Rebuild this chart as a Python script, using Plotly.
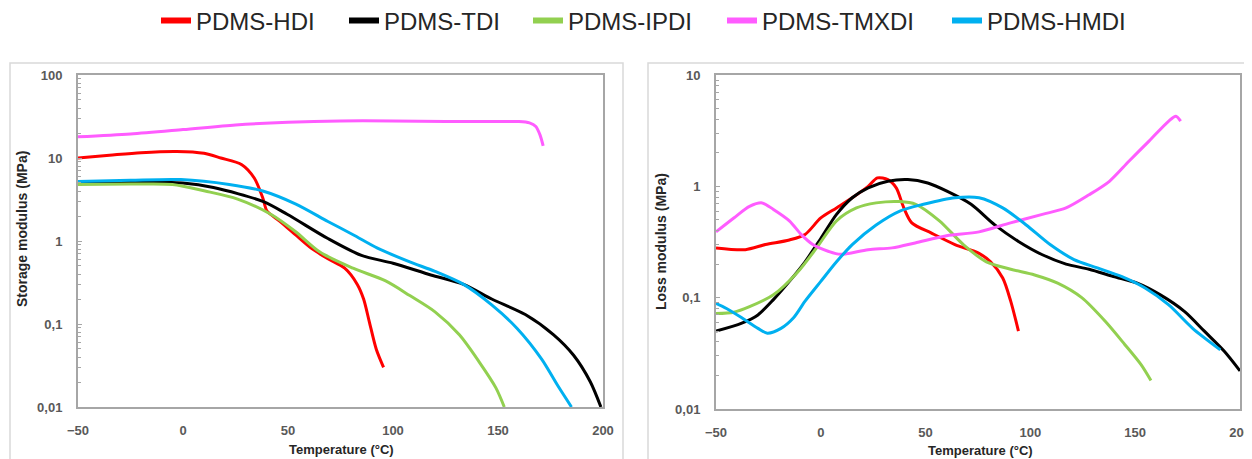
import plotly.graph_objects as go

# the page body has an 8px margin, so the figure is 8px smaller and all pixel
# positions below are given in window pixels and shifted by that offset
OFF = 8
W, H = 1252 - OFF, 459 - OFF

names = ["PDMS-HDI", "PDMS-TDI", "PDMS-IPDI", "PDMS-TMXDI", "PDMS-HMDI"]
colors = ["#FF0000", "#000000", "#92D050", "#FF5CFF", "#00B0F0"]

# ---- Storage modulus (MPa) vs temperature (°C) ----
sT_hdi = [-50, -35, -20, -3, 10, 18, 28, 34, 38, 40, 46, 53.5, 61, 69, 77, 83, 86, 88.7, 92, 95.5]
sE_hdi = [10, 10.8, 11.6, 12, 11.4, 10, 8.3, 5.7, 3.3, 2.3, 1.74, 1.19, 0.82, 0.61, 0.47, 0.3, 0.2, 0.107, 0.05, 0.03]

sT_tdi = [-50, -25, 0, 14.5, 38, 49.6, 69, 85, 100, 118, 133.6, 147, 163, 176.5, 186, 194, 199]
sE_tdi = [5.2, 5.2, 5.0, 4.4, 3.0, 2.1, 1.07, 0.67, 0.54, 0.39, 0.3, 0.2, 0.13, 0.074, 0.042, 0.02, 0.01]

sT_ipdi = [-50, -25, -5, 10.5, 26, 41.8, 53.5, 65, 81, 96.5, 108, 120, 131.6, 141, 149, 153]
sE_ipdi = [4.8, 4.85, 4.8, 4.0, 3.2, 2.1, 1.3, 0.74, 0.47, 0.33, 0.22, 0.14, 0.074, 0.035, 0.017, 0.01]

sT_tmxdi = [-50, -25, 0, 25, 50, 75, 100, 125, 150, 160, 165, 168, 170, 171.5]
sE_tmxdi = [18, 19.5, 22, 25, 27, 28, 28, 27.5, 27.5, 27.5, 26.5, 24, 19, 14]

sT_hmdi = [-50, -25, -1, 22, 38, 53.5, 69, 81, 92.6, 108, 120, 133.6, 147, 159, 170.7, 178.5, 185]
sE_hmdi = [5.2, 5.4, 5.5, 4.8, 4.0, 2.8, 1.72, 1.19, 0.82, 0.56, 0.43, 0.3, 0.17, 0.089, 0.038, 0.018, 0.01]

# ---- Loss modulus (MPa) vs temperature (°C) ----
lT_hdi = [-50, -36, -26.4, -15, -7.5, 0, 7.5, 15, 22.6, 27, 32, 36, 39.6, 43.4, 52.8, 64, 75.5, 81, 86.8, 90.6, 94.3]
lE_hdi = [0.28, 0.27, 0.30, 0.33, 0.37, 0.52, 0.64, 0.79, 1.0, 1.19, 1.15, 0.97, 0.64, 0.47, 0.38, 0.30, 0.25, 0.21, 0.15, 0.093, 0.05]

lT_tdi = [-50, -37.7, -30, -22.6, -15, -7.5, 0, 7.5, 15, 22.6, 32, 41.5, 51, 60.4, 71.7, 83, 94.3, 105.7, 117, 128, 139.6, 151, 162, 173.6, 183, 192.5, 200]
lE_tdi = [0.05, 0.059, 0.07, 0.096, 0.14, 0.21, 0.34, 0.56, 0.79, 0.97, 1.11, 1.15, 1.07, 0.9, 0.69, 0.45, 0.32, 0.243, 0.20, 0.18, 0.155, 0.135, 0.106, 0.075, 0.05, 0.033, 0.022]

lT_ipdi = [-50, -41.5, -34, -22.6, -11, -2, 7.5, 17, 26.4, 37.7, 45.3, 56.6, 68, 79, 90.6, 102, 113, 124.5, 135.8, 145, 152.8, 157.5]
lE_ipdi = [0.072, 0.074, 0.083, 0.106, 0.17, 0.28, 0.49, 0.64, 0.71, 0.73, 0.69, 0.49, 0.30, 0.21, 0.18, 0.16, 0.135, 0.1, 0.061, 0.038, 0.025, 0.018]

lT_tmxdi = [-50, -41.5, -34, -28, -22.6, -15, -9.4, -3.8, 3.8, 9.4, 22.6, 34, 45, 60, 75.5, 90.5, 105.7, 117, 128, 137.7, 147, 156.6, 166, 169.4, 171.7]
lE_tmxdi = [0.39, 0.52, 0.66, 0.71, 0.62, 0.49, 0.37, 0.30, 0.26, 0.245, 0.27, 0.28, 0.31, 0.36, 0.39, 0.47, 0.56, 0.64, 0.84, 1.11, 1.68, 2.55, 3.86, 4.27, 3.86]

lT_hmdi = [-50, -45, -37.7, -30, -25.5, -19, -13, -7.5, 0, 7.5, 15, 26.4, 37.7, 49, 64, 75.5, 86.8, 98, 109.4, 120.8, 132, 143.4, 154.7, 166, 177.4, 190.6]
lE_hmdi = [0.089, 0.08, 0.066, 0.053, 0.048, 0.053, 0.066, 0.093, 0.14, 0.21, 0.30, 0.45, 0.60, 0.69, 0.79, 0.79, 0.64, 0.45, 0.30, 0.22, 0.185, 0.155, 0.122, 0.086, 0.053, 0.034]

storage = [(sT_hdi, sE_hdi), (sT_tdi, sE_tdi), (sT_ipdi, sE_ipdi), (sT_tmxdi, sE_tmxdi), (sT_hmdi, sE_hmdi)]
loss = [(lT_hdi, lE_hdi), (lT_tdi, lE_tdi), (lT_ipdi, lE_ipdi), (lT_tmxdi, lE_tmxdi), (lT_hmdi, lE_hmdi)]

x_ticks = [-50, 0, 50, 100, 150, 200]
y1_ticks = [0.01, 0.1, 1, 10, 100]
y1_text = ["0,01", "0,1", "1", "10", "100"]
y2_ticks = [0.01, 0.1, 1, 10]
y2_text = ["0,01", "0,1", "1", "10"]

# left edge (window px) of each legend entry's line symbol
legend_px = [161, 349, 533, 727, 952]
legend_ids = ["legend", "legend2", "legend3", "legend4", "legend5"]

fig = go.Figure()

# legend entries (thick line symbols), one legend box per entry
for name, col, lid in zip(names, colors, legend_ids):
    fig.add_trace(go.Scatter(x=[None], y=[None], mode="lines", name=name,
                             line=dict(color=col, width=6), legendgroup=name, legend=lid,
                             showlegend=True, xaxis="x", yaxis="y"))

for (T, E), name, col in zip(storage, names, colors):
    fig.add_trace(go.Scatter(x=T, y=E, mode="lines", name=name, legendgroup=name,
                             line=dict(color=col, width=3, shape="spline", smoothing=0.8),
                             showlegend=False, xaxis="x", yaxis="y"))
for (T, E), name, col in zip(loss, names, colors):
    fig.add_trace(go.Scatter(x=T, y=E, mode="lines", name=name, legendgroup=name,
                             line=dict(color=col, width=3, shape="spline", smoothing=0.8),
                             showlegend=False, xaxis="x2", yaxis="y2"))

def px_x(p):
    return (p - OFF) / W

def px_y(p):
    return 1 - (p - OFF) / H

FONT = "Liberation Sans, Arial, sans-serif"
tick_font = dict(family=FONT, size=13, color="#595959", weight="bold")
axis_line = dict(showline=True, linecolor="#A6A6A6", linewidth=2, mirror=True, showgrid=False,
                 zeroline=False, automargin=False, ticklabeloverflow="allow")

def minor_vals(lo, hi):
    vals = []
    d = lo
    while d < hi:
        for k in range(2, 10):
            vals.append(k * d)
        d *= 10
    return vals

legend_style = dict(orientation="h", xanchor="left", yanchor="middle",
                    font=dict(family=FONT, size=24, color="#262626"),
                    itemwidth=30, bgcolor="rgba(0,0,0,0)", borderwidth=0)

layout_legends = {}
for lid, lx in zip(legend_ids, legend_px):
    layout_legends[lid] = dict(x=px_x(lx - 5), y=px_y(21), **legend_style)

fig.update_layout(
    width=W, height=H,
    margin=dict(l=0, r=0, t=0, b=0, autoexpand=False),
    paper_bgcolor="white", plot_bgcolor="white",
    showlegend=True,
    xaxis=dict(domain=[px_x(78), px_x(603)], range=[-50, 200], tickvals=x_ticks,
               ticks="", tickfont=tick_font, anchor="y", ticklabelstandoff=10, **axis_line),
    yaxis=dict(domain=[px_y(407), px_y(75)], type="log", range=[-2, 2], tickvals=y1_ticks,
               ticktext=y1_text, ticks="inside", ticklen=4, tickcolor="#A6A6A6",
               minor=dict(tickvals=minor_vals(0.01, 100), ticks="inside", ticklen=3, tickcolor="#A6A6A6"),
               tickfont=tick_font, anchor="x", ticklabelstandoff=11, **axis_line),
    xaxis2=dict(domain=[px_x(716), px_x(1240)], range=[-50, 200], tickvals=x_ticks,
                ticks="", tickfont=tick_font, anchor="y2", ticklabelstandoff=10, **axis_line),
    yaxis2=dict(domain=[px_y(409), px_y(75)], type="log", range=[-2, 1], tickvals=y2_ticks,
                ticktext=y2_text, ticks="inside", ticklen=4, tickcolor="#A6A6A6",
                minor=dict(tickvals=minor_vals(0.01, 10), ticks="inside", ticklen=3, tickcolor="#A6A6A6"),
                tickfont=tick_font, anchor="x2", ticklabelstandoff=11, **axis_line),
    **layout_legends,
)

xt_font = dict(family=FONT, size=13, color="#262626", weight="bold")
yt_font = dict(family=FONT, size=14, color="#262626", weight="bold")
fig.add_annotation(text="Temperature (°C)", x=px_x(341), y=px_y(449), xref="paper", yref="paper",
                   showarrow=False, font=xt_font, xanchor="center", yanchor="middle")
fig.add_annotation(text="Temperature (°C)", x=px_x(980), y=px_y(450), xref="paper", yref="paper",
                   showarrow=False, font=xt_font, xanchor="center", yanchor="middle")
fig.add_annotation(text="Storage modulus (MPa)", x=px_x(22), y=px_y(229), xref="paper", yref="paper",
                   showarrow=False, font=yt_font, textangle=-90, xanchor="center", yanchor="middle")
fig.add_annotation(text="Loss modulus (MPa)", x=px_x(661), y=px_y(242), xref="paper", yref="paper",
                   showarrow=False, font=yt_font, textangle=-90, xanchor="center", yanchor="middle")

# panel frames
fig.add_shape(type="rect", xref="paper", yref="paper", x0=px_x(10), x1=px_x(623), y0=-0.05, y1=px_y(63),
              line=dict(color="#D9D9D9", width=1.5), layer="below")
fig.add_shape(type="rect", xref="paper", yref="paper", x0=px_x(648), x1=1.05, y0=-0.05, y1=px_y(63),
              line=dict(color="#D9D9D9", width=1.5), layer="below")

fig.write_html("out.html")
